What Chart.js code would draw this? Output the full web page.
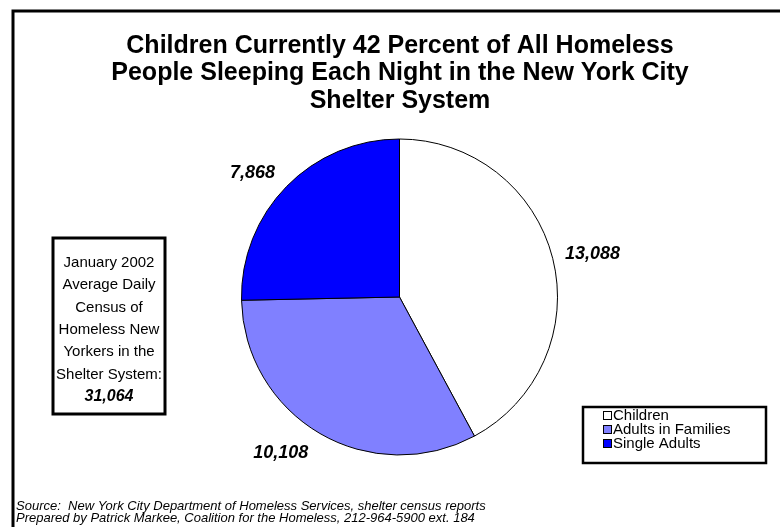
<!DOCTYPE html>
<html>
<head>
<meta charset="utf-8">
<script src="https://cdn.jsdelivr.net/npm/chart.js@4.4.1/dist/chart.umd.min.js"></script>
<style>
  html, body { margin: 0; padding: 0; background: #ffffff; }
  #wrap { position: relative; width: 780px; height: 527px; }
</style>
</head>
<body>
<div id="wrap"><canvas id="chart" width="780" height="527"></canvas></div>
<script>
// Average daily shelter census, January 2002
const categories = ['Children', 'Adults in Families', 'Single Adults'];
const census = [13088, 10108, 7868];
const sliceColors = ['#FFFFFF', '#8080FF', '#0000FF'];
const titleLines = [
  'Children Currently 42 Percent of All Homeless',
  'People Sleeping Each Night in the New York City',
  'Shelter System'
];
const infoLines = ['January 2002', 'Average Daily', 'Census of', 'Homeless New', 'Yorkers in the', 'Shelter System:'];
const footerLines = [
  'Source:  New York City Department of Homeless Services, shelter census reports',
  'Prepared by Patrick Markee, Coalition for the Homeless, 212-964-5900 ext. 184'
];

const FONT = '"Liberation Sans", Arial, Helvetica, sans-serif';
const fmt = v => v.toLocaleString('en-US');

// Frame, title, side box, footer, slice value labels and legend
const decorations = {
  id: 'decorations',
  beforeDraw(chart) {
    const ctx = chart.ctx;
    ctx.save();
    ctx.fillStyle = '#ffffff';
    ctx.fillRect(0, 0, chart.width, chart.height);
    ctx.strokeStyle = '#000000';
    ctx.lineWidth = 3;
    ctx.strokeRect(13, 11, chart.width + 20, chart.height + 20);
    ctx.restore();
  },
  afterDraw(chart, args, opts) {
    const ctx = chart.ctx;
    ctx.save();
    ctx.fillStyle = '#000000';
    ctx.textAlign = 'center';
    ctx.textBaseline = 'middle';

    // title
    ctx.font = 'bold 25px ' + FONT;
    titleLines.forEach((t, i) => ctx.fillText(t, 400, 46 + i * 27.5));

    // side box with the total
    ctx.lineWidth = 3;
    ctx.strokeRect(53, 238, 112, 176);
    ctx.font = '15px ' + FONT;
    infoLines.forEach((t, i) => ctx.fillText(t, 109, 263 + i * 22.3));
    const total = census.reduce((a, b) => a + b, 0);
    ctx.font = 'italic bold 16px ' + FONT;
    ctx.fillText(fmt(total), 109, 397);

    // footer
    ctx.textAlign = 'left';
    ctx.font = 'italic 13px ' + FONT;
    footerLines.forEach((t, i) => ctx.fillText(t, 16, 506 + i * 12.5));

    // value labels outside each slice
    const meta = chart.getDatasetMeta(0);
    ctx.textAlign = 'center';
    ctx.font = 'italic bold 18px ' + FONT;
    meta.data.forEach((arc, i) => {
      const p = arc.getProps(['x', 'y', 'startAngle', 'endAngle', 'outerRadius'], true);
      const mid = (p.startAngle + p.endAngle) / 2;
      const r = p.outerRadius + opts.labelGap;
      const nudge = opts.labelNudge[i] || [0, 0];
      ctx.fillText(fmt(census[i]), p.x + Math.cos(mid) * r + nudge[0], p.y + Math.sin(mid) * r + nudge[1]);
    });

    // legend
    const L = opts.legendBox;
    ctx.lineWidth = 2.5;
    ctx.strokeRect(L.x, L.y, L.w, L.h);
    ctx.font = '15px ' + FONT;
    ctx.textAlign = 'left';
    categories.forEach((c, i) => {
      const cy = L.y + 8 + i * 14;
      ctx.fillStyle = sliceColors[i];
      ctx.fillRect(L.x + 20, cy - 4, 8, 8);
      ctx.lineWidth = 1;
      ctx.strokeStyle = '#000000';
      ctx.strokeRect(L.x + 20.5, cy - 3.5, 8, 8);
      ctx.fillStyle = '#000000';
      ctx.fillText(c, L.x + 30, cy + 0.5);
    });
    ctx.restore();
  }
};

new Chart(document.getElementById('chart'), {
  type: 'pie',
  data: {
    labels: categories,
    datasets: [{
      data: census,
      backgroundColor: sliceColors,
      borderColor: '#000000',
      borderWidth: 1
    }]
  },
  options: {
    responsive: false,
    animation: false,
    events: [],
    radius: 158,
    layout: { padding: { left: 241, right: 222, top: 139, bottom: 72 } },
    plugins: {
      legend: { display: false },
      title: { display: false },
      tooltip: { enabled: false },
      decorations: {
        labelGap: 38,
        labelNudge: [[3, 5], [-20, -13], [-7, 13]],
        legendBox: { x: 583, y: 407, w: 183, h: 56 }
      }
    }
  },
  plugins: [decorations]
});
</script>
</body>
</html>
